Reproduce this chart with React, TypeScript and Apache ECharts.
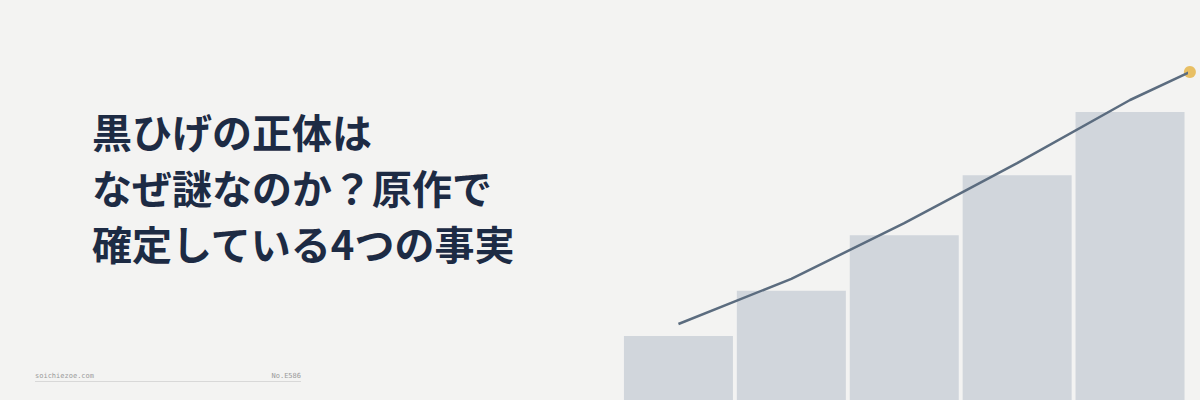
import { useEffect, useRef } from 'react';
import * as echarts from 'echarts';

const categories = ['1', '2', '3', '4', '5'];
const barValues = [16, 27.3, 41.2, 56.2, 72];
const linePoints: [number, number][] = [
  [0, 19],
  [1, 30.3],
  [2, 44.2],
  [3, 59.2],
  [4, 75],
];
const endPoint: [number, number][] = [[4.53, 82]];
const titleLines = ['黒ひげの正体は', 'なぜ謎なのか？原作で', '確定している4つの事実'];
const siteLabel = 'soichiezoe.com';
const issueLabel = 'No.E586';

function App() {
  const chartRef = useRef<HTMLDivElement>(null);

  useEffect(() => {
    const myChart = echarts.init(chartRef.current, null, { renderer: 'svg' });

    const option = {
      animation: false,
      backgroundColor: '#f3f3f2',
      title: {
        text: titleLines.join('\n'),
        left: 87,
        top: 98,
        textStyle: {
          fontFamily: '"Noto Sans CJK JP", sans-serif',
          fontSize: 40,
          fontWeight: 'bold',
          lineHeight: 56,
          color: '#1d2b44',
        },
      },
      grid: {
        left: 622,
        right: 13.5,
        top: 0,
        bottom: 0,
      },
      xAxis: [
        {
          type: 'category',
          data: categories,
          show: false,
        },
        {
          type: 'value',
          min: -0.5,
          max: 4.5,
          show: false,
        },
      ],
      yAxis: {
        type: 'value',
        min: 0,
        max: 100,
        show: false,
      },
      series: [
        {
          type: 'bar',
          data: barValues,
          barWidth: 109,
          itemStyle: { color: '#d1d6dc' },
        },
        {
          type: 'line',
          xAxisIndex: 1,
          data: [...linePoints, ...endPoint],
          symbol: 'none',
          clip: false,
          lineStyle: { color: '#5b6c7f', width: 2.5 },
        },
        {
          type: 'scatter',
          xAxisIndex: 1,
          data: endPoint,
          symbolSize: 12,
          clip: false,
          itemStyle: { color: '#e5b140' },
        },
      ],
      graphic: [
        {
          type: 'text',
          left: 35,
          top: 372,
          style: {
            text: siteLabel,
            fontFamily: '"DejaVu Sans Mono", monospace',
            fontSize: 7,
            fill: '#9a9a9a',
          },
        },
        {
          type: 'text',
          right: 899,
          top: 372,
          style: {
            text: issueLabel,
            fontFamily: '"DejaVu Sans Mono", monospace',
            fontSize: 7,
            fill: '#9a9a9a',
          },
        },
        {
          type: 'line',
          shape: { x1: 35, y1: 381.5, x2: 301, y2: 381.5 },
          style: { stroke: '#d8d8d8', lineWidth: 1 },
        },
      ],
    };

    myChart.setOption(option);

    return () => {
      myChart.dispose();
    };
  }, []);

  return (
    <div
      ref={chartRef}
      style={{ position: 'absolute', left: 0, top: 0, width: '1200px', height: '400px' }}
    ></div>
  );
}

export default App;
